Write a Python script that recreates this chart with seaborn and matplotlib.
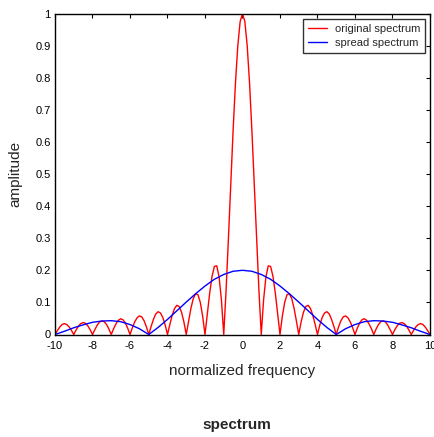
import numpy as np
import pandas as pd
import seaborn as sns
import matplotlib.pyplot as plt

# red curve at 0.125 steps (right half, x >= 0)
x_orig_half = np.arange(0, 10.001, 0.125)
y_orig_half = [
    1.000, 0.975, 0.900, 0.784, 0.637, 0.471, 0.300, 0.139,
    0.000, 0.108, 0.180, 0.214, 0.212, 0.181, 0.129, 0.065,
    0.000, 0.057, 0.100, 0.124, 0.127, 0.112, 0.082, 0.042,
    0.000, 0.039, 0.069, 0.087, 0.091, 0.081, 0.060, 0.031,
    0.000, 0.030, 0.053, 0.067, 0.071, 0.064, 0.047, 0.025,
    0.000, 0.024, 0.043, 0.055, 0.058, 0.052, 0.039, 0.021,
    0.000, 0.020, 0.036, 0.046, 0.049, 0.044, 0.033, 0.018,
    0.000, 0.017, 0.031, 0.040, 0.042, 0.039, 0.029, 0.015,
    0.000, 0.015, 0.027, 0.035, 0.037, 0.034, 0.026, 0.014,
    0.000, 0.013, 0.024, 0.031, 0.034, 0.031, 0.023, 0.012,
    0.000,
]

# blue curve, read at 0.5 steps (right half)
x_spread_half = np.arange(0, 10.001, 0.5)
y_spread_half = [
    0.200, 0.197, 0.187, 0.172, 0.151, 0.127, 0.101, 0.074, 0.047, 0.022,
    0.000, 0.018, 0.031, 0.040, 0.043, 0.042, 0.038, 0.030, 0.021, 0.010,
    0.000,
]

# both curves are symmetric about 0
orig = pd.DataFrame({
    'f': np.concatenate([-x_orig_half[:0:-1], x_orig_half]),
    'amp': np.concatenate([y_orig_half[:0:-1], y_orig_half]),
})
spread = pd.DataFrame({
    'f': np.concatenate([-x_spread_half[:0:-1], x_spread_half]),
    'amp': np.concatenate([y_spread_half[:0:-1], y_spread_half]),
})

sns.set_style("white")
plt.rcParams['font.family'] = ['Liberation Sans', 'DejaVu Sans']
plt.rcParams['axes.unicode_minus'] = False

fig = plt.figure(figsize=(4.35, 4.37), dpi=100)
ax = fig.add_axes([55 / 435, 1 - 334.5 / 437, 375 / 435, 321 / 437])

sns.lineplot(data=orig, x='f', y='amp', color='#ff0000', lw=1,
             sort=False, estimator=None, label='original spectrum', ax=ax)
sns.lineplot(data=spread, x='f', y='amp', color='#0000ff', lw=1,
             sort=False, estimator=None, label='spread spectrum', ax=ax)

ax.set_xlim(-10, 10)
ax.set_ylim(0, 1)
ax.set_xticks(np.arange(-10, 11, 2))
ax.set_yticks(np.arange(0, 1.01, 0.1))
ax.set_yticklabels(['0', '0.1', '0.2', '0.3', '0.4', '0.5', '0.6', '0.7', '0.8', '0.9', '1'])
ax.tick_params(direction='in', length=3, width=0.8, top=True, right=True,
               labelsize=8, colors='black', pad=3)
ax.tick_params(axis='x', pad=5)
for s in ax.spines.values():
    s.set_color('black')
    s.set_linewidth(1)

ax.set_xlabel('normalized frequency', fontsize=11)
ax.set_ylabel('amplitude', fontsize=11)
ax.xaxis.set_label_coords(0.5, -0.092)
ax.yaxis.set_label_coords(-0.088, 0.5)

leg = ax.legend(loc='upper right', fontsize=8, frameon=True, fancybox=False,
                borderaxespad=0.45, handlelength=1.7, handletextpad=0.7,
                borderpad=0.45, labelspacing=0.4)
leg.get_frame().set_edgecolor('black')
leg.get_frame().set_linewidth(1)

fig.text(237 / 435, 1 - 425 / 437, 'spectrum', fontsize=11, fontweight='bold',
         ha='center', va='center')

fig.savefig('out.png', dpi=100)
